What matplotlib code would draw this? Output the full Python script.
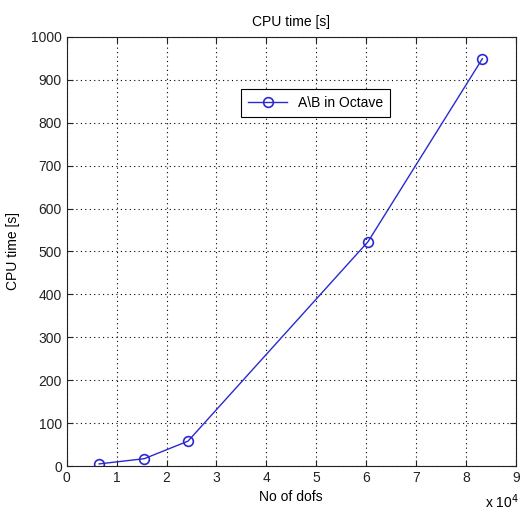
import matplotlib
matplotlib.use("Agg")
import matplotlib.pyplot as plt
from matplotlib.ticker import FuncFormatter

plt.rcParams['font.family'] = ['Liberation Sans', 'DejaVu Sans']

dofs = [6500, 15500, 24300, 60400, 83300]
cpu_time = [5, 17, 58, 523, 949]
series_label = r"A\B in Octave"
x_ticks = list(range(0, 10))
y_ticks = list(range(0, 1001, 100))

fig = plt.figure(figsize=(5.22, 5.17), dpi=100)
ax = fig.add_axes([0.128, 0.0986, 0.860, 0.830])

ax.plot(dofs, cpu_time, '-o', color='#2a2ad0', lw=1.0, ms=7,
        markerfacecolor='none', markeredgecolor='#2a2ad0', mew=1.2, label=series_label)

ax.set_xlim(0, 90000)
ax.set_ylim(0, 1000)
ax.set_xticks([t * 1e4 for t in x_ticks])
ax.xaxis.set_major_formatter(FuncFormatter(lambda v, p: f"{v/1e4:g}"))
ax.set_yticks(y_ticks)

ax.grid(True, linestyle=(0, (1, 3)), color='black', lw=0.8)
ax.tick_params(direction='in', length=4, labelsize=10, colors='#222222', top=True, right=True,
               labeltop=False, labelright=False)
for s in ax.spines.values():
    s.set_color('#222222')
    s.set_linewidth(0.8)

ax.set_title("CPU time [s]", fontsize=10, pad=8)
ax.set_xlabel("No of dofs", fontsize=10, labelpad=4)
ax.set_ylabel("CPU time [s]", fontsize=10, labelpad=8)

fig.text(0.994, 0.012, r"x 10$^4$", fontsize=10, ha='right', va='bottom')

leg = ax.legend(loc='center', bbox_to_anchor=(0.555, 0.846), fancybox=False,
                framealpha=1, edgecolor='black', fontsize=10, handlelength=2.8,
                borderpad=0.5)
leg.get_frame().set_linewidth(0.8)

fig.savefig("out.png", dpi=100)
